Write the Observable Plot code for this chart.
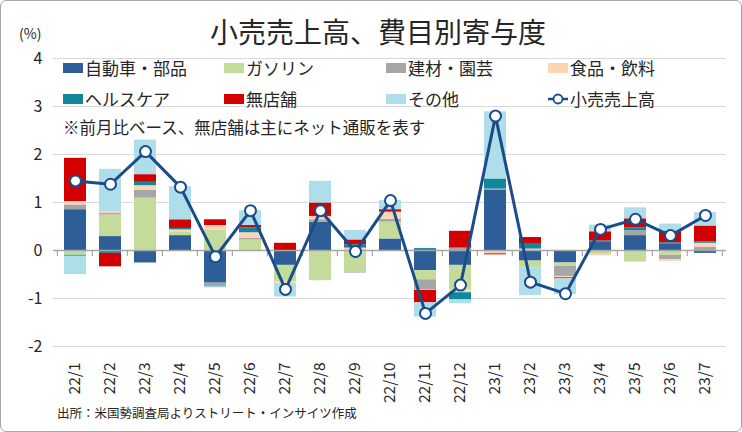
<!DOCTYPE html>
<html><head><meta charset="utf-8">
<script src="https://cdn.jsdelivr.net/npm/d3@7"></script>
<script src="https://cdn.jsdelivr.net/npm/@observablehq/plot@0.6"></script>
<style>
body{margin:0;background:#fff;}
#wrap{position:relative;width:742px;height:432px;font-family:"Noto Sans CJK JP","Noto Sans",sans-serif;color:#262626;overflow:hidden;}
#frame{position:absolute;left:0;top:0;width:742px;height:432px;box-sizing:border-box;border:1.5px solid #A6A6A6;border-radius:6px;pointer-events:none;}
.abs{position:absolute;white-space:nowrap;line-height:1;}
#chart{position:absolute;left:0;top:0;}
</style></head>
<body>
<div id="wrap">
  <div id="chart"></div>
  <div class="abs" id="title" style="left:0;width:756px;text-align:center;top:17px;font-size:28px;">小売売上高、費目別寄与度</div>
  <div class="abs" style="left:19px;top:26px;font-size:14px;">(%)</div>
  <div id="legend"></div>
  <div class="abs" style="left:63px;top:119px;font-size:16.5px;">※前月比ベース、無店舗は主にネット通販を表す</div>
  <div class="abs" style="left:57px;top:407px;font-size:12.5px;">出所：米国勢調査局よりストリート・インサイツ作成</div>
  <div id="frame"></div>
</div>
<script>
const months = ["22/1","22/2","22/3","22/4","22/5","22/6","22/7","22/8","22/9","22/10","22/11","22/12","23/1","23/2","23/3","23/4","23/5","23/6","23/7"];
const seriesNames = ["自動車・部品","ガソリン","建材・園芸","食品・飲料","ヘルスケア","無店舗","その他"];
const seriesColors = ["#2D5E98","#C3DC9C","#A6A6A6","#FDD5B3","#10879B","#D20000","#ADDEEA"];
const lineName = "小売売上高";
const lineColor = "#1B4C8A";

const auto     = [0.85, 0.29,-0.26, 0.31,-0.68, 0.00,-0.31, 0.59,-0.02, 0.24,-0.42,-0.31, 1.25,-0.22,-0.26, 0.17, 0.31, 0.14,-0.06];
const gasoline = [-0.10,0.45, 1.09, 0.08, 0.42, 0.22,-0.34,-0.63,-0.43, 0.35,-0.19,-0.51, 0.00,-0.14,-0.07,-0.08,-0.24,-0.10, 0.00];
const building = [0.10, 0.03, 0.16, 0.00,-0.07, 0.03, 0.00, 0.05,-0.02, 0.06,-0.21, 0.05, 0.03, 0.00,-0.21, 0.00, 0.10,-0.09, 0.07];
const food     = [0.07, 0.03, 0.10, 0.04, 0.10, 0.12,-0.04, 0.07, 0.05, 0.15,-0.01,-0.06,-0.07, 0.03,-0.03,-0.03, 0.00,-0.04, 0.08];
const health   = [-0.02,-0.06,0.07, 0.03,-0.01, 0.10, 0.00, 0.00, 0.07, 0.00, 0.04,-0.15, 0.21, 0.10, 0.00, 0.03, 0.06, 0.02, 0.03];
const nonstore = [0.90,-0.28, 0.16, 0.18, 0.12, 0.05, 0.15, 0.28, 0.10, 0.05,-0.26, 0.35,-0.02, 0.14,-0.02, 0.19, 0.19, 0.24, 0.33];
const other    = [-0.38,0.89, 0.72, 0.69,-0.02, 0.31,-0.28, 0.45, 0.20, 0.19,-0.30,-0.08, 1.40,-0.58,-0.33, 0.14, 0.23, 0.15, 0.28];
const retail   = [1.45, 1.38, 2.06, 1.32,-0.13, 0.83,-0.81, 0.83,-0.02, 1.04,-1.31,-0.72, 2.80,-0.66,-0.90, 0.44, 0.65, 0.31, 0.73];
const yTicks = [-2,-1,0,1,2,3,4];

const seriesValues = [auto, gasoline, building, food, health, nonstore, other];
const barData = [];
seriesNames.forEach((name, s) => {
  months.forEach((m, i) => barData.push({month: m, series: name, value: seriesValues[s][i]}));
});
const lineData = months.map((m, i) => ({month: m, value: retail[i]}));

const PAD_IN = 0.38;

function boundaryTicks(index, scales, values, dimensions) {
  const x = scales.x, y = scales.y;
  const step = x(months[1]) - x(months[0]);
  const y0 = y(0);
  const g = d3.create("svg:g").attr("stroke", "#A6A6A6").attr("stroke-width", 1.2);
  for (let i = 0; i <= months.length; i++) {
    const bx = (i < months.length ? x(months[i]) : x(months[months.length-1]) + step) - step * PAD_IN / 2;
    g.append("line").attr("x1", bx).attr("x2", bx).attr("y1", y0).attr("y2", y0 + 6);
  }
  return g.node();
}

const chart = Plot.plot({
  width: 742,
  height: 432,
  marginTop: 58,
  marginBottom: 86,
  marginLeft: 53,
  marginRight: 16,
  style: {fontFamily: '"Noto Sans CJK JP","Noto Sans",sans-serif', color: "#262626", background: "transparent", overflow: "visible"},
  x: {type: "band", domain: months, paddingInner: PAD_IN, paddingOuter: PAD_IN / 2, label: null},
  y: {domain: [-2, 4], label: null},
  color: {domain: seriesNames, range: seriesColors},
  marks: [
    Plot.gridY(yTicks.filter(d => d !== 0), {stroke: "#D9D9D9", strokeOpacity: 1, strokeWidth: 1.2}),
    Plot.barY(barData, Plot.stackY({x: "month", y: "value", fill: "series", order: null})),
    Plot.ruleY([0], {stroke: "#A6A6A6", strokeWidth: 1.5}),
    boundaryTicks,
    Plot.line(lineData, {x: "month", y: "value", stroke: lineColor, strokeWidth: 3}),
    Plot.dot(lineData, {x: "month", y: "value", r: 5.5, fill: "white", stroke: lineColor, strokeWidth: 2}),
    Plot.axisY(yTicks, {tickSize: 0, tickPadding: 11, fontSize: 16, tickFormat: d => String(d)}),
    Plot.axisX({tickRotate: -90, tickSize: 0, tickPadding: 16, fontSize: 15.5, label: null})
  ]
});
document.getElementById("chart").appendChild(chart);

// legend
const legend = document.getElementById("legend");
const cols = [63, 224, 386, 548];
const rows = [68, 99];
const items = seriesNames.map((n, i) => ({name: n, color: seriesColors[i], type: "swatch"}));
items.push({name: lineName, color: lineColor, type: "line"});
items.forEach((it, i) => {
  const cx = cols[i % 4], cy = rows[Math.floor(i / 4)];
  if (it.type === "swatch") {
    const sw = document.createElement("div");
    sw.style.cssText = `position:absolute;left:${cx}px;top:${cy-5}px;width:20px;height:10px;background:${it.color};`;
    legend.appendChild(sw);
  } else {
    const ns = "http://www.w3.org/2000/svg";
    const svg = document.createElementNS(ns, "svg");
    svg.setAttribute("width", 22); svg.setAttribute("height", 14);
    svg.style.cssText = `position:absolute;left:${cx-1}px;top:${cy-7}px;`;
    const ln = document.createElementNS(ns, "line");
    ln.setAttribute("x1", 1); ln.setAttribute("x2", 21); ln.setAttribute("y1", 7); ln.setAttribute("y2", 7);
    ln.setAttribute("stroke", it.color); ln.setAttribute("stroke-width", 2.5);
    const c = document.createElementNS(ns, "circle");
    c.setAttribute("cx", 11); c.setAttribute("cy", 7); c.setAttribute("r", 4.5);
    c.setAttribute("fill", "white"); c.setAttribute("stroke", it.color); c.setAttribute("stroke-width", 1.8);
    svg.appendChild(ln); svg.appendChild(c);
    legend.appendChild(svg);
  }
  const t = document.createElement("div");
  t.className = "abs";
  t.style.cssText += `left:${cx+22}px;top:${cy-9}px;font-size:17px;`;
  t.textContent = it.name;
  legend.appendChild(t);
});
</script>
</body></html>
